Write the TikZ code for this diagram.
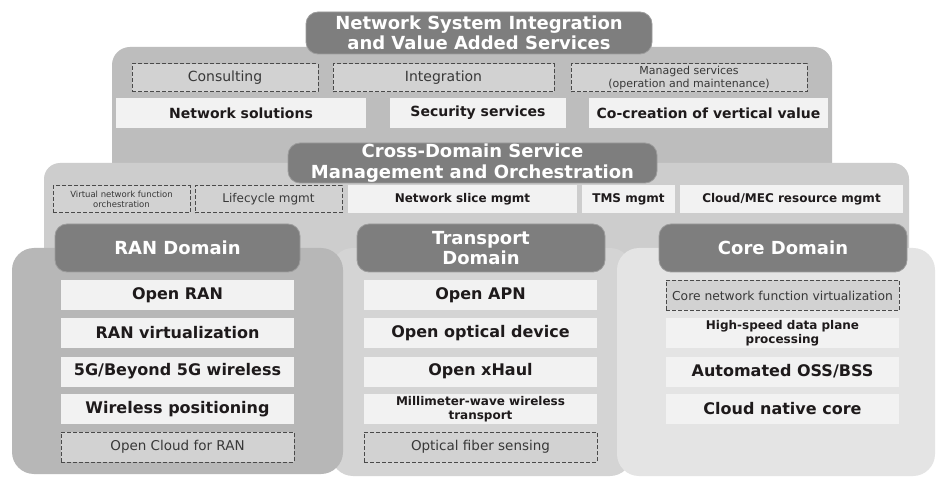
\documentclass[tikz,border=0pt]{standalone}
\usepackage{fontspec}
\setmainfont{DejaVu Sans}
\definecolor{nsiFill}{HTML}{BDBDBD}
\definecolor{crossFill}{HTML}{CDCDCD}
\definecolor{ranFill}{HTML}{B7B7B7}
\definecolor{transFill}{HTML}{D4D4D4}
\definecolor{coreFill}{HTML}{E4E4E4}
\definecolor{pillFill}{HTML}{7E7E7E}
\definecolor{pillEdge}{HTML}{9C9C9C}
\definecolor{wFill}{HTML}{F2F2F2}
\definecolor{dFill}{HTML}{D2D2D2}
\definecolor{dEdge}{HTML}{4A4A4A}
\definecolor{txtDark}{HTML}{1E1A1B}
\definecolor{txtDash}{HTML}{383838}
\newcommand{\fs}[2]{\fontsize{#1}{#2}\selectfont}
\tikzset{
  area/.style={draw=none, inner sep=0pt, outer sep=0pt},
  pill/.style={fill=pillFill, draw=pillEdge, line width=0.8pt, rounded corners=12pt,
    text=white, align=center, inner sep=0pt, font=\bfseries\fs{18}{20.5}},
  wbox/.style={fill=wFill, draw=none, text=txtDark, align=center, inner sep=0pt, font=\bfseries},
  dbox/.style={fill=dFill, draw=dEdge, line width=1pt, dash pattern=on 4pt off 2pt,
    text=txtDash, align=center, inner sep=0pt},
  bigitem/.style={wbox, minimum width=233pt, minimum height=30pt, font=\bfseries\fs{16}{18}},
  smallitem/.style={wbox, minimum width=233pt, minimum height=30pt, font=\bfseries\fs{12}{14}},
  dashitem/.style={dbox, minimum width=233pt, minimum height=30pt, font=\fs{13.5}{16}},
}
\begin{document}
\begin{tikzpicture}[x=1pt,y=-1pt]
\useasboundingbox (0,0) rectangle (937,478);
\fill[white] (0,0) rectangle (937,478);
% ---------- Network System Integration layer
\node[area, fill=nsiFill, rounded corners=18pt, minimum width=720pt, minimum height=153pt] (nsi) at (472,123.5) {};
\node[pill, minimum width=346pt, minimum height=42pt] (nsititle) at (479,33) {Network System Integration\\and Value Added Services};
\node[dbox, minimum width=186pt, minimum height=28pt, font=\fs{14}{16}] (consult) at (225,78) {Consulting};
\node[dbox, minimum width=221pt, minimum height=28pt, font=\fs{14}{16}] (integ) at (443.5,78) {Integration};
\node[dbox, minimum width=236pt, minimum height=28pt, font=\fs{11}{12.5}] (managed) at (689,78) {Managed services\\(operation and maintenance)};
\node[wbox, minimum width=250pt, minimum height=30pt, font=\bfseries\fs{14}{16}] (netsol) at (241,113) {Network solutions};
\node[wbox, minimum width=176pt, minimum height=30pt, font=\bfseries\fs{14}{16}] (secsvc) at (478,113) {Security services};
\node[wbox, minimum width=239pt, minimum height=30pt, font=\bfseries\fs{14}{16}] (cocreate) at (708.5,113) {Co-creation of vertical value};
% ---------- Cross-domain layer
\node[area, fill=crossFill, rounded corners=16pt, minimum width=865pt, minimum height=157pt] (cross) at (476.5,241.5) {};
\node[pill, minimum width=369pt, minimum height=40pt] (crosstitle) at (472.5,163) {Cross-Domain Service\\Management and Orchestration};
\node[dbox, minimum width=137pt, minimum height=27pt, font=\fs{8.5}{10}] (vnf) at (121.5,199.5) {Virtual network function\\orchestration};
\node[dbox, minimum width=147pt, minimum height=27pt, font=\fs{12}{14}] (lifecycle) at (268.5,199.5) {Lifecycle mgmt};
\node[wbox, minimum width=229pt, minimum height=28pt, font=\bfseries\fs{12}{14}] (netslice) at (462.5,199.5) {Network slice mgmt};
\node[wbox, minimum width=93pt, minimum height=28pt, font=\bfseries\fs{12}{14}] (tms) at (628.5,199.5) {TMS mgmt};
\node[wbox, minimum width=223pt, minimum height=28pt, font=\bfseries\fs{12}{14}] (cloudmec) at (791.5,199.5) {Cloud/MEC resource mgmt};
% ---------- Domain boxes
\node[area, fill=transFill, rounded corners=22pt, minimum width=301pt, minimum height=228pt] (trans) at (481.5,362) {};
\node[area, fill=ranFill, rounded corners=22pt, minimum width=331pt, minimum height=226pt] (ran) at (177.5,361) {};
\node[area, fill=coreFill, rounded corners=22pt, minimum width=318pt, minimum height=228pt] (core) at (776,362) {};
\node[pill, minimum width=245pt, minimum height=48pt] (rantitle) at (177.5,248) {RAN Domain};
\node[pill, minimum width=248pt, minimum height=48pt] (transtitle) at (481,248) {Transport\\Domain};
\node[pill, minimum width=248pt, minimum height=48pt] (coretitle) at (783,248) {Core Domain};
% RAN items
\node[bigitem] (oran) at (177.5,295.5) {Open RAN};
\node[bigitem] (ranvirt) at (177.5,333) {RAN virtualization};
\node[bigitem] (fiveg) at (177.5,371.5) {5G/Beyond 5G wireless};
\node[bigitem] (wpos) at (177.5,409) {Wireless positioning};
\node[dashitem] (ocloud) at (177.5,447) {Open Cloud for RAN};
% Transport items
\node[bigitem] (oapn) at (480.5,295.5) {Open APN};
\node[bigitem] (ooptic) at (480.5,333) {Open optical device};
\node[bigitem] (oxhaul) at (480.5,371.5) {Open xHaul};
\node[smallitem] (mmwave) at (480.5,409) {Millimeter-wave wireless\\transport};
\node[dashitem] (fiber) at (480.5,447) {Optical fiber sensing};
% Core items
\node[dbox, minimum width=233pt, minimum height=30pt, font=\fs{12.3}{14}] (cnfv) at (782.5,295.5) {Core network function virtualization};
\node[smallitem] (hsdp) at (782.5,333) {High-speed data plane\\processing};
\node[bigitem] (oss) at (782.5,371.5) {Automated OSS/BSS};
\node[bigitem] (cnc) at (782.5,409) {Cloud native core};
\end{tikzpicture}
\end{document}
